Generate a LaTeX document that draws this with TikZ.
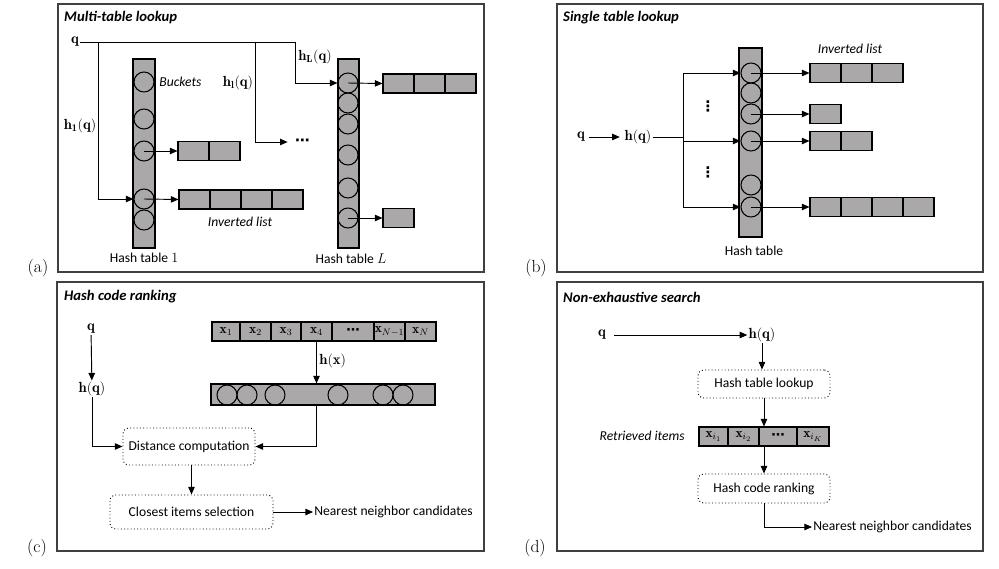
\documentclass[tikz,border=0pt]{standalone}
\usepackage{amsmath}
\usepackage{fontspec}
\setsansfont{Carlito}
\newfontfamily\dotsfont{DejaVu Sans}
\usetikzlibrary{arrows.meta,calc}
\definecolor{bargray}{RGB}{170,168,168}
\newcommand{\hdotsb}{{\dotsfont\bfseries ⋯}}
\newcommand{\vdotsb}{{\dotsfont\bfseries ⋮}}
\tikzset{
  panel/.style={draw=black!75, line width=1pt},
  ptitle/.style={anchor=west, inner sep=0pt, font=\sffamily\bfseries\itshape\fontsize{12.5}{14}\selectfont},
  plabel/.style={inner sep=0pt, font=\fontsize{15}{18}\selectfont},
  txt/.style={inner sep=1pt, font=\sffamily\fontsize{11.6}{13}\selectfont},
  note/.style={inner sep=1pt, font=\sffamily\itshape\fontsize{11.6}{13}\selectfont},
  lbl/.style={inner sep=1pt, font=\fontsize{12.5}{14}\selectfont},
  cell/.style={draw, fill=bargray, line width=0.9pt, minimum width=0.93cm, minimum height=0.57cm, inner sep=0pt, font=\fontsize{11.5}{13}\selectfont},
  column/.style={draw, fill=bargray, line width=0.9pt, inner sep=0pt},
  bucket/.style={circle, draw, line width=0.9pt, minimum size=0.6cm, inner sep=0pt},
  stepbox/.style={draw, dotted, rounded corners=5pt, line width=0.8pt, inner sep=0pt, font=\sffamily\fontsize{11.6}{13}\selectfont},
  arr/.style={-{Triangle[length=6.5pt,width=5.5pt]}, line width=0.8pt},
  wire/.style={line width=0.8pt},
  pics/invlist/.default={1},
  pics/invlist/.style = {
    code = {
    \foreach \k in {1,...,#1}
      \node[cell] (-\k) at ({31*\k-15.5},0) {};
    }
  }
}
\begin{document}
\begin{tikzpicture}[x=0.03cm, y=-0.03cm]
\useasboundingbox (0,0) rectangle (999,569);

% (a) multi-table lookup
\draw[panel] (58,4) rectangle (484,272);
\node[ptitle] (ta) at (64,18) {Multi-table lookup};
\node[plabel] (la) at (38,268) {(a)};

\node[lbl] (qa) at (75,42) {$\mathbf{q}$};
\node[column, minimum width=0.66cm, minimum height=5.67cm] (hta) at (144,153.5) {};
\foreach \y [count=\i] in {82,119,151,199,220}
  \node[bucket] (ha\i) at (144,\y) {};
\node[column, minimum width=0.63cm, minimum height=5.67cm] (htL) at (348.5,153.5) {};
\foreach \y [count=\i] in {83,103,124,155,188,218}
  \node[bucket] (hL\i) at (348,\y) {};

\pic (lsa) at (178,151) {invlist=2};
\pic (lsb) at (179,199.5) {invlist=4};
\pic (lsc) at (383,83.5) {invlist=3};
\pic (lsd) at (383,218) {invlist=1};
\draw[arr] (ha3.center) -- (lsa-1.west);
\draw[arr] (ha4.center) -- (lsb-1.west);
\draw[arr] (hL1.center) -- (lsc-1.west);
\draw[arr] (hL6.center) -- (lsd-1.west);

\node[note, anchor=west] (bk) at (158,82) {Buckets};
\node[note] (ila) at (240,222) {Inverted list};
\node[txt] (nha) at (144,258) {Hash table $1$};
\node[txt] (nhL) at (351,259) {Hash table $L$};
\node[lbl] (h1a) at (80,126) {$\mathbf{h}_{\mathbf{1}}(\mathbf{q})$};
\node[lbl] (hla) at (238,83) {$\mathbf{h}_{\mathbf{l}}(\mathbf{q})$};
\node[lbl] (hLa) at (315,57) {$\mathbf{h}_{\mathbf{L}}(\mathbf{q})$};
\node[lbl, anchor=west, inner sep=0pt] (dta) at (295,142) {\hdotsb};

\coordinate (ja1) at (98,42);
\coordinate (jal) at (255,42);
\coordinate (jaL) at (295,42);
\draw[wire] (qa.east) -- (jaL);
\draw[arr] (jaL) |- (hL1.west);
\draw[arr] (ja1) |- (ha4.west);
\draw[arr, shorten >=0.22cm] (jal) |- (dta.west);

% (b) single table lookup
\draw[panel] (557,4) rectangle (983,272);
\node[ptitle] (tb) at (563,18) {Single table lookup};
\node[plabel] (lb) at (536,268) {(b)};

\node[lbl] (qb) at (581,137) {$\mathbf{q}$};
\node[lbl] (hqb) at (638,137) {$\mathbf{h}(\mathbf{q})$};
\draw[arr, shorten <=2pt, shorten >=3pt] (qb) -- (hqb);
\node[column, minimum width=0.69cm, minimum height=5.67cm] (htb) at (750.5,142.5) {};
\foreach \y [count=\i] in {73,93,114,141,185,207}
  \node[bucket] (hb\i) at (751,\y) {};
\coordinate (jb) at (683,137);
\draw[wire] (hqb.east) -- (jb);
\draw[arr] (jb) |- (hb1.west);
\draw[arr] (jb) |- (hb4.west);
\draw[arr] (jb) |- (hb6.west);
\node[lbl, inner sep=0pt] (vd1) at (708,106) {\vdotsb};
\node[lbl, inner sep=0pt] (vd2) at (708,172) {\vdotsb};

\pic (lb1) at (810,73) {invlist=3};
\pic (lb2) at (810,114) {invlist=1};
\pic (lb3) at (810,141) {invlist=2};
\pic (lb4) at (810,207) {invlist=4};
\draw[arr] (hb1.center) -- (lb1-1.west);
\draw[arr] (hb3.center) -- (lb2-1.west);
\draw[arr] (hb4.center) -- (lb3-1.west);
\draw[arr] (hb6.center) -- (lb4-1.west);
\node[note] (ilb) at (850,49) {Inverted list};
\node[txt] (nhb) at (754,251) {Hash table};

% (c) hash code ranking
\draw[panel] (57,282) rectangle (484,551);
\node[ptitle] (tc) at (64,297) {Hash code ranking};
\node[plabel] (lc) at (37,548) {(c)};

\node[lbl] (qc) at (91,329) {$\mathbf{q}$};
\node[lbl] (hqc) at (92,389) {$\mathbf{h}(\mathbf{q})$};
\draw[arr] (qc) -- (hqc);
\foreach \l/\r/\t [count=\i] in {212/240/{$\mathbf{x}_1$}, 240/271/{$\mathbf{x}_2$},
    271/301/{$\mathbf{x}_3$}, 301/332/{$\mathbf{x}_4$}, 332/374/{\hdotsb},
    374/405/{$\mathbf{x}_{N-1}$}, 405/436/{$\mathbf{x}_N$}}
  \node[cell, minimum width={(\r-\l)*0.03cm}] (xc\i) at ({(\l+\r)/2},331.5) {\t};
\node[column, minimum width=6.72cm, minimum height=0.63cm] (hbar) at (323,394.5) {};
\foreach \x [count=\i] in {227,247,275,338,383,403}
  \node[bucket] (hc\i) at (\x,395) {};
\node[lbl, anchor=west] (hxc) at (318,361) {$\mathbf{h}(\mathbf{x})$};
\draw[arr] (xc4.south) -- (xc4.south |- hbar.north);

\node[stepbox, minimum width=3.96cm, minimum height=1.11cm] (dist) at (189,446.5) {Distance computation};
\node[stepbox, minimum width=4.89cm, minimum height=1.02cm] (close) at (191.5,512) {Closest items selection};
\node[txt, anchor=west] (nnc) at (313,512) {Nearest neighbor candidates};
\draw[arr] (hqc.south) |- (dist.west);
\draw[arr] (xc4.south |- hbar.south) |- (dist.east);
\draw[arr] (close.north |- dist.south) -- (close.north);
\draw[arr] (close.east) -- (nnc.west);

% (d) non-exhaustive search
\draw[panel] (557,282) rectangle (983,551);
\node[ptitle] (td) at (563,297) {Non-exhaustive search};
\node[plabel] (ld) at (535,548) {(d)};

\node[lbl] (qd) at (602,335) {$\mathbf{q}$};
\node[lbl] (hqd) at (762,335) {$\mathbf{h}(\mathbf{q})$};
\draw[arr] ([xshift=0.2cm]qd.east) -- (hqd.west);
\node[stepbox, minimum width=3.96cm, minimum height=0.84cm] (lookup) at (764,384) {Hash table lookup};
\draw[arr] (hqd.south) -- (hqd.south |- lookup.north);
\foreach \l/\r/\t [count=\i] in {699/728/{$\mathbf{x}_{i_1}$}, 728/759/{$\mathbf{x}_{i_2}$},
    759/797/{\hdotsb}, 797/829/{$\mathbf{x}_{i_K}$}}
  \node[cell, minimum width={(\r-\l)*0.03cm}] (xd\i) at ({(\l+\r)/2},436.5) {\t};
\node[note, anchor=east] (ret) at (686,436) {Retrieved items};
\node[stepbox, minimum width=3.96cm, minimum height=0.87cm] (rank) at (764,488.5) {Hash code ranking};
\node[txt, anchor=west] (nnd) at (812,527) {Nearest neighbor candidates};
\draw[arr] (lookup.south) -- (lookup.south |- xd2.north);
\draw[arr] (lookup.south |- xd2.south) -- (rank.north);
\draw[arr] (rank.south) |- (nnd.west);

\end{tikzpicture}
\end{document}
